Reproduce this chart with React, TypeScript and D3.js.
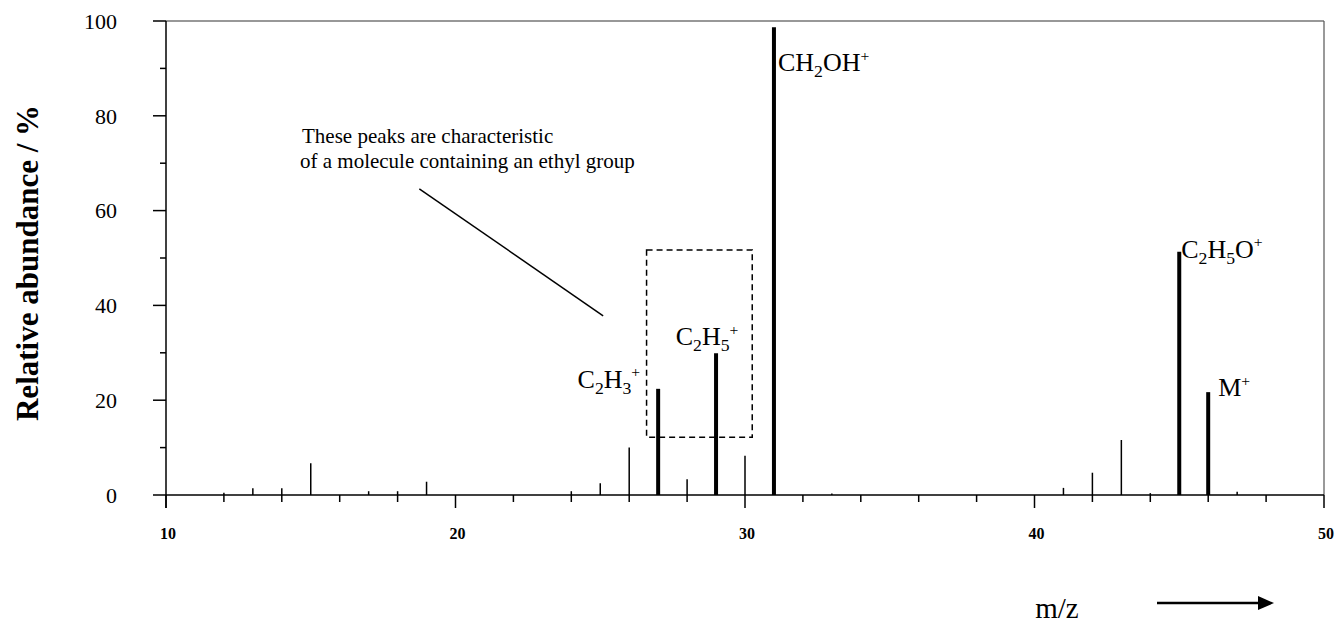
import React from "react";
import * as d3 from "d3";

// ---- data ----
const thinMz = [12, 13, 14, 15, 17, 18, 19, 24, 25, 26, 28, 30, 33, 41, 42, 43, 44, 47];
const thinAbundance = [0.5, 1.4, 1.4, 6.7, 0.8, 0.8, 2.8, 0.8, 2.5, 10.0, 3.3, 8.3, 0.3, 1.5, 4.7, 11.6, 0.4, 0.7];
const keyMz = [27, 29, 31, 45, 46];
const keyAbundance = [22.4, 29.9, 98.7, 51.3, 21.7];
const keyLabels = ["C_2H_3^+", "C_2H_5^+", "CH_2OH^+", "C_2H_5O^+", "M^+"];
const yTickValues = [0, 20, 40, 60, 80, 100];
const yMinorTicks = [10, 30, 50, 70, 90];
const xTickValues = [10, 20, 30, 40, 50];
const xMinorTicks = [12, 14, 16, 18, 22, 24, 26, 28, 32, 34, 36, 38, 42, 44, 46, 48];
const annotationLines = ["These peaks are characteristic", "of a molecule containing an ethyl group"];
const boxMz = [26.6, 30.25];
const boxAbundance = [12.2, 51.7];
const pointerMz = [18.75, 25.1];
const pointerAbundance = [64.6, 37.8];
const yTitle = "Relative abundance / %";
const xTitle = "m/z";

const W = 1338;
const H = 623;
const FONT = "'Liberation Serif', 'Times New Roman', serif";

const x = d3.scaleLinear().domain([10, 50]).range([166, 1324]);
const y = d3.scaleLinear().domain([0, 100]).range([495, 21]);

function Formula({ text, size, ...rest }: any) {
  const parts: { t: string; k: string }[] = [];
  let i = 0;
  while (i < text.length) {
    const c = text[i];
    if (c === "_" || c === "^") {
      parts.push({ t: text[i + 1], k: c === "_" ? "sub" : "sup" });
      i += 2;
    } else {
      const last = parts[parts.length - 1];
      if (last && last.k === "n") last.t += c;
      else parts.push({ t: c, k: "n" });
      i += 1;
    }
  }
  let cur = 0;
  const spans = parts.map((p, idx) => {
    let target = 0;
    let fs = size;
    if (p.k === "sub") {
      target = size * 0.22;
      fs = size * 0.68;
    } else if (p.k === "sup") {
      target = -size * 0.4;
      fs = size * 0.6;
    }
    const dy = target - cur;
    cur = target;
    return (
      <tspan key={idx} dy={dy} fontSize={fs}>
        {p.t}
      </tspan>
    );
  });
  return (
    <text fontFamily={FONT} fontSize={size} fill="#000" {...rest}>
      {spans}
    </text>
  );
}

export default function App() {
  const axisColor = "#000";
  const labelPos = [
    { dx: -18, dy: -1, anchor: "end" },
    { dx: -9, dy: -8, anchor: "middle" },
    { dx: 4, dy: 0, anchor: "start", absY: 71 },
    { dx: 2, dy: 6, anchor: "start" },
    { dx: 10, dy: 4, anchor: "start" },
  ];
  return (
    <svg
      width={W}
      height={H}
      style={{ position: "absolute", left: 0, top: 0, background: "#fff" }}
    >
      <rect x={0} y={0} width={W} height={H} fill="#fff" />
      {/* frame top and right */}
      <line x1={x(10)} x2={x(50)} y1={y(100)} y2={y(100)} stroke="#333" strokeWidth={1.2} />
      <line x1={x(50)} x2={x(50)} y1={y(100)} y2={y(0)} stroke="#555" strokeWidth={1.2} />
      {/* y axis */}
      <line x1={x(10)} x2={x(10)} y1={y(100)} y2={y(0) + 13} stroke={axisColor} strokeWidth={1.5} />
      {yTickValues.map((v) => (
        <g key={"yt" + v}>
          <line x1={x(10) - 13} x2={x(10)} y1={y(v)} y2={y(v)} stroke={axisColor} strokeWidth={1.5} />
          <text
            x={117}
            y={y(v)}
            dy="0.35em"
            textAnchor="end"
            fontFamily={FONT}
            fontSize={22}
            fill="#000"
          >
            {v}
          </text>
        </g>
      ))}
      {yMinorTicks.map((v) => (
        <line key={"ym" + v} x1={x(10) - 6} x2={x(10)} y1={y(v)} y2={y(v)} stroke={axisColor} strokeWidth={1.5} />
      ))}
      {/* x axis */}
      <line x1={x(10)} x2={x(50)} y1={y(0)} y2={y(0)} stroke={axisColor} strokeWidth={1.5} />
      {xTickValues.map((v) => (
        <g key={"xt" + v}>
          <line x1={x(v)} x2={x(v)} y1={y(0)} y2={y(0) + 13} stroke={axisColor} strokeWidth={1.5} />
          <text
            x={x(v) + 2}
            y={539}
            textAnchor="middle"
            fontFamily={FONT}
            fontWeight="bold"
            fontSize={16}
            fill="#000"
          >
            {v}
          </text>
        </g>
      ))}
      {xMinorTicks.map((v) => (
        <line key={"xm" + v} x1={x(v)} x2={x(v)} y1={y(0)} y2={y(0) + 7} stroke={axisColor} strokeWidth={1.5} />
      ))}
      {/* thin peaks */}
      {thinMz.map((m, i) => (
        <line key={"tp" + m} x1={x(m)} x2={x(m)} y1={y(0)} y2={y(thinAbundance[i])} stroke="#000" strokeWidth={1.5} />
      ))}
      {/* key peaks */}
      {keyMz.map((m, i) => (
        <line key={"kp" + m} x1={x(m)} x2={x(m)} y1={y(0)} y2={y(keyAbundance[i])} stroke="#000" strokeWidth={4} />
      ))}
      {/* peak labels */}
      {keyMz.map((m, i) => {
        const p = labelPos[i];
        const yy = p.absY !== undefined ? p.absY : y(keyAbundance[i]) + p.dy;
        return (
          <Formula key={"kl" + m} text={keyLabels[i]} size={26} x={x(m) + p.dx} y={yy} textAnchor={p.anchor} />
        );
      })}
      {/* dashed box */}
      <rect
        x={x(boxMz[0])}
        y={y(boxAbundance[1])}
        width={x(boxMz[1]) - x(boxMz[0])}
        height={y(boxAbundance[0]) - y(boxAbundance[1])}
        fill="none"
        stroke="#000"
        strokeWidth={1.5}
        strokeDasharray="6,4"
      />
      {/* pointer line */}
      <line
        x1={x(pointerMz[0])}
        y1={y(pointerAbundance[0])}
        x2={x(pointerMz[1])}
        y2={y(pointerAbundance[1])}
        stroke="#000"
        strokeWidth={1.5}
      />
      {/* annotation */}
      {annotationLines.map((t, i) => (
        <text key={"an" + i} x={i === 0 ? 302 : 300} y={143 + i * 25} fontFamily={FONT} fontSize={21} fill="#000">
          {t}
        </text>
      ))}
      {/* y title */}
      <text
        transform={`translate(38, ${263}) rotate(-90)`}
        textAnchor="middle"
        fontFamily={FONT}
        fontWeight="bold"
        fontSize={31}
        fill="#000"
      >
        {yTitle}
      </text>
      {/* x title and arrow */}
      <text x={1057} y={618} textAnchor="middle" fontFamily={FONT} fontSize={29} fill="#000">
        {xTitle}
      </text>
      <line x1={1157} x2={1262} y1={603} y2={603} stroke="#000" strokeWidth={2.5} />
      <path d="M1258,596 L1274,603 L1258,610 Z" fill="#000" />
    </svg>
  );
}
